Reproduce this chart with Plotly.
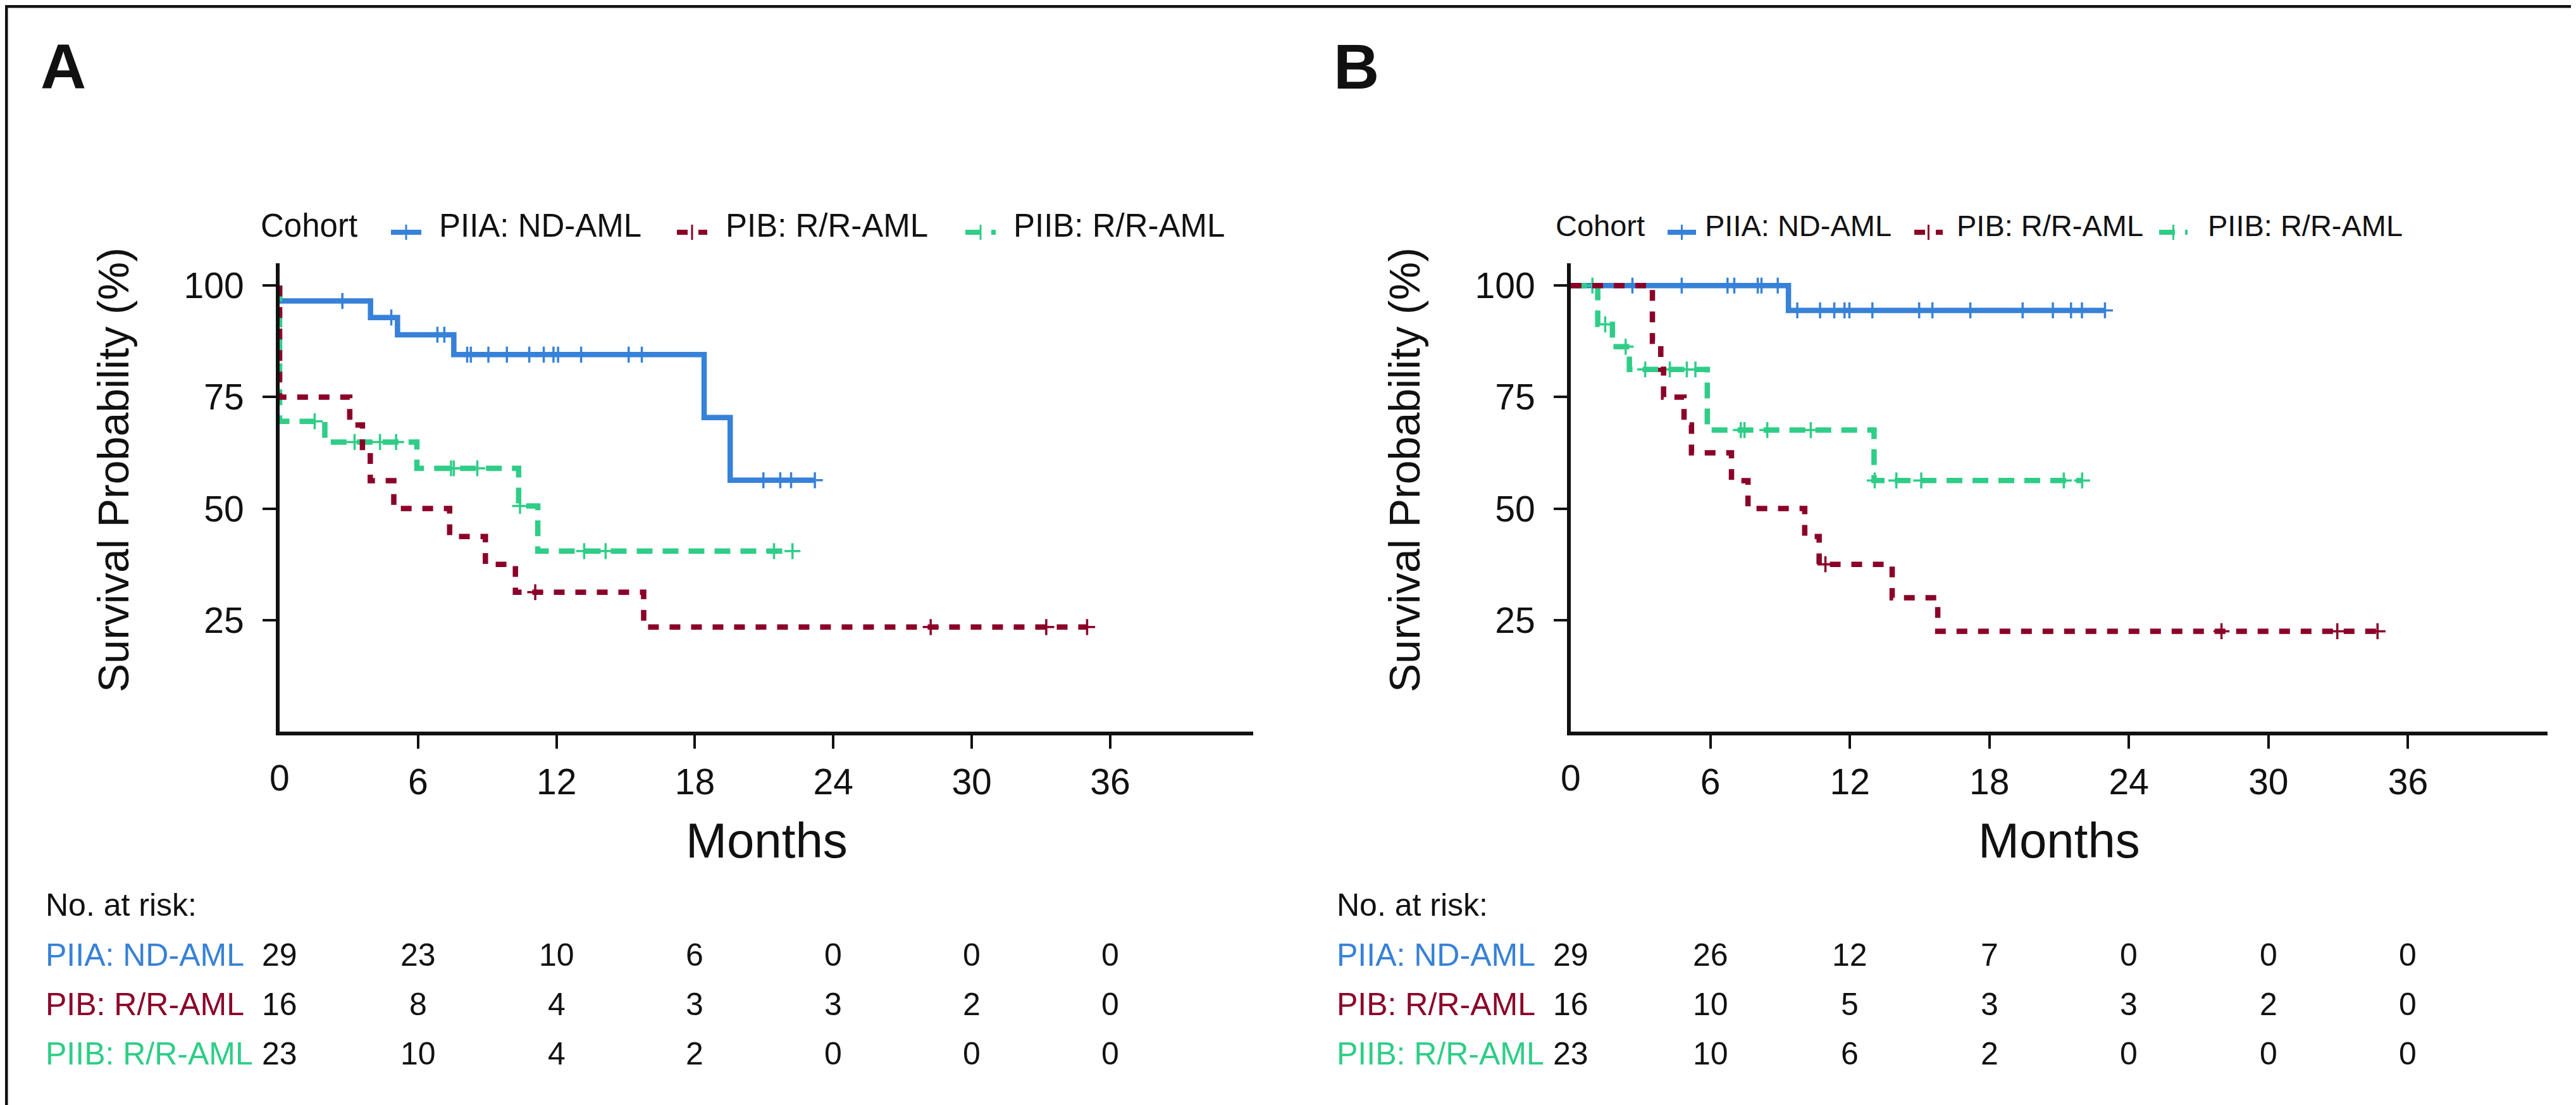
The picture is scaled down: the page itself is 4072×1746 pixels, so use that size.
import plotly.graph_objects as go

W, H = 4072, 1746
FONT = "Liberation Sans, Arial, Helvetica, sans-serif"
INK = "#111111"

BLUE = "#3781D8"
RED = "#8B0028"
GREEN = "#2FCD87"

COHORTS = ["PIIA: ND-AML", "PIB: R/R-AML", "PIIB: R/R-AML"]
COLORS = [BLUE, RED, GREEN]
DASHES = ["solid", "17px,17px", "25px,16px"]

MONTH_TICKS = [0, 6, 12, 18, 24, 30, 36]
SURV_TICKS = [25, 50, 75, 100]

# Panel A: step times (months), survival (%) after each step, censor times
A_PIIA_T = [0, 0, 3.94, 5.11, 7.55, 18.40, 19.53]
A_PIIA_S = [100, 96.55, 92.84, 88.97, 84.52, 70.43, 56.35]
A_PIIA_C = [2.72, 4.84, 6.84, 7.14, 8.13, 8.29, 9.05, 9.85, 10.82, 11.45,
            11.87, 12.07, 13.07, 15.13, 15.70, 20.97, 21.70, 22.17, 23.20]

A_PIB_T = [0, 0, 3.04, 3.59, 3.93, 4.95, 7.37, 8.92, 10.22, 15.78]
A_PIB_S = [100, 75, 68.75, 62.5, 56.25, 50, 43.75, 37.5, 31.25, 23.44]
A_PIB_C = [11.08, 28.22, 33.23, 35.00]

A_PIIB_T = [0, 0, 1.96, 5.95, 10.36, 11.19]
A_PIIB_S = [100, 69.57, 64.93, 59.03, 50.59, 40.47]
A_PIIB_C = [1.52, 3.25, 4.35, 5.05, 7.43, 7.55, 8.57, 10.42, 13.20, 14.13,
            21.43, 22.23]

A_RISK = [[29, 23, 10, 6, 0, 0, 0],
          [16, 8, 4, 3, 3, 2, 0],
          [23, 10, 4, 2, 0, 0, 0]]

# Panel B
B_PIIA_T = [0, 9.36]
B_PIIA_S = [100, 94.44]
B_PIIA_C = [2.65, 4.77, 6.74, 7.03, 8.04, 8.20, 8.90, 9.74, 10.72, 11.33,
            11.77, 11.98, 12.97, 14.98, 15.55, 17.18, 19.43, 20.73, 21.51,
            21.98, 22.97]

B_PIB_T = [0, 3.51, 3.87, 3.99, 4.87, 5.19, 6.91, 7.62, 10.06, 10.68, 13.82, 15.78]
B_PIB_S = [100, 87.5, 81.25, 75, 68.75, 62.5, 56.25, 50, 43.75, 37.5, 30, 22.5]
B_PIB_C = [10.95, 27.98, 32.96, 34.69]

B_PIIB_T = [0, 1.16, 1.79, 2.52, 5.87, 13.04]
B_PIIB_S = [100, 91.3, 86.3, 81.2, 67.6, 56.3]
B_PIIB_C = [0.93, 1.48, 2.36, 3.20, 4.26, 4.99, 5.36, 7.31, 7.47, 8.45,
            10.32, 13.07, 14.00, 15.07, 21.20, 21.99]

B_RISK = [[29, 26, 12, 7, 0, 0, 0],
          [16, 10, 5, 3, 3, 2, 0],
          [23, 10, 6, 2, 0, 0, 0]]

TEXT_DY = -5  # annotation boxes sit a little low, nudge up


def px_x(x):
    return x / W


def px_y(y):
    return 1 - y / H


def ty(y):
    return px_y(y + TEXT_DY)


def level_at(t, times, surv):
    s = surv[0]
    for ti, si in zip(times, surv):
        if ti <= t:
            s = si
    return s


PANELS = [
    dict(letter="A", letter_x=54, ax="x", ay="y", dom=(434, 1973), xmax=42.2,
         curves=[(A_PIIA_T, A_PIIA_S, A_PIIA_C), (A_PIB_T, A_PIB_S, A_PIB_C),
                 (A_PIIB_T, A_PIIB_S, A_PIIB_C)],
         risk=A_RISK, risk_x=62, ytitle_x=171,
         leg_font=51, leg_title_x=402, leg_sym=[610, 1062, 1518],
         leg_text=[684, 1137, 1592], leg_w=48),
    dict(letter="B", letter_x=2098, ax="x2", ay="y2", dom=(2475, 4019), xmax=42.0,
         curves=[(B_PIIA_T, B_PIIA_S, B_PIIA_C), (B_PIB_T, B_PIB_S, B_PIB_C),
                 (B_PIIB_T, B_PIIB_S, B_PIIB_C)],
         risk=B_RISK, risk_x=2103, ytitle_x=2212,
         leg_font=47, leg_title_x=2449, leg_sym=[2628, 3018, 3405],
         leg_text=[2685, 3083, 3480], leg_w=45),
]

Y_DOM = (px_y(1148), px_y(408))

fig = go.Figure()
annotations = []
shapes = []

for p in PANELS:
    # blue first, then green, red on top
    for i in [0, 2, 1]:
        times, surv, cens = p["curves"][i]
        t_end = max(max(cens), times[-1])
        fig.add_trace(go.Scatter(
            x=times + [t_end], y=surv + [surv[-1]],
            xaxis=p["ax"], yaxis=p["ay"], mode="lines",
            line=dict(color=COLORS[i], width=8.5, dash=DASHES[i], shape="hv"),
            showlegend=False, hoverinfo="skip",
        ))
        fig.add_trace(go.Scatter(
            x=cens, y=[level_at(c, times, surv) for c in cens],
            xaxis=p["ax"], yaxis=p["ay"], mode="markers",
            marker=dict(symbol="cross-thin-open", size=18, color=COLORS[i],
                        line=dict(width=3.5, color=COLORS[i])),
            showlegend=False, hoverinfo="skip",
        ))

    # panel letter
    annotations.append(dict(text="<b>%s</b>" % p["letter"], xref="paper", yref="paper",
                            x=px_x(p["letter_x"]), y=ty(102), xanchor="left",
                            yanchor="middle", showarrow=False,
                            font=dict(family=FONT, size=100, color=INK)))

    # legend
    annotations.append(dict(text="Cohort", xref="paper", yref="paper",
                            x=px_x(p["leg_title_x"]), y=ty(354), xanchor="left",
                            yanchor="middle", showarrow=False,
                            font=dict(family=FONT, size=p["leg_font"], color=INK)))
    for i in range(3):
        sx = p["leg_sym"][i]
        w = p["leg_w"]
        shapes.append(dict(type="line", xref="paper", yref="paper",
                           x0=px_x(sx), x1=px_x(sx + w), y0=px_y(359), y1=px_y(359),
                           line=dict(color=COLORS[i], width=8, dash=DASHES[i])))
        shapes.append(dict(type="line", xref="paper", yref="paper",
                           x0=px_x(sx + w / 2), x1=px_x(sx + w / 2),
                           y0=px_y(347), y1=px_y(371),
                           line=dict(color=COLORS[i], width=3)))
        annotations.append(dict(text=COHORTS[i], xref="paper", yref="paper",
                                x=px_x(p["leg_text"][i]), y=ty(354), xanchor="left",
                                yanchor="middle", showarrow=False,
                                font=dict(family=FONT, size=p["leg_font"], color=INK)))

    # axis titles
    annotations.append(dict(text="Survival Probability (%)", xref="paper", yref="paper",
                            x=px_x(p["ytitle_x"]), y=px_y(735), textangle=-90,
                            xanchor="center", yanchor="middle", showarrow=False,
                            font=dict(family=FONT, size=68, color=INK)))
    annotations.append(dict(text="Months", xref="paper", yref="paper",
                            x=px_x((p["dom"][0] + p["dom"][1]) / 2), y=ty(1325),
                            xanchor="center", yanchor="middle", showarrow=False,
                            font=dict(family=FONT, size=78, color=INK)))

    # "0" tick label (no tick mark drawn at the origin)
    annotations.append(dict(text="0", xref=p["ax"], yref="paper", x=0, y=ty(1226),
                            xanchor="center", yanchor="middle", showarrow=False,
                            font=dict(family=FONT, size=57, color=INK)))

    # number at risk table
    annotations.append(dict(text="No. at risk:", xref="paper", yref="paper",
                            x=px_x(p["risk_x"]), y=ty(1427), xanchor="left",
                            yanchor="middle", showarrow=False,
                            font=dict(family=FONT, size=50, color=INK)))
    for i, row_y in enumerate([1506, 1584, 1662]):
        annotations.append(dict(text=COHORTS[i], xref="paper", yref="paper",
                                x=px_x(p["risk_x"]), y=ty(row_y), xanchor="left",
                                yanchor="middle", showarrow=False,
                                font=dict(family=FONT, size=50, color=COLORS[i])))
        for t, n in zip(MONTH_TICKS, p["risk"][i]):
            annotations.append(dict(text=str(n), xref=p["ax"], yref="paper",
                                    x=t, y=ty(row_y), xanchor="center",
                                    yanchor="middle", showarrow=False,
                                    font=dict(family=FONT, size=50, color=INK)))

# outer frame
shapes.append(dict(type="rect", xref="paper", yref="paper", x0=0, x1=1, y0=0, y1=1,
                   line=dict(color=INK, width=9)))

axis_common = dict(showgrid=False, zeroline=False, showline=True, linewidth=6,
                   linecolor=INK, ticks="outside", ticklen=21, tickwidth=4,
                   tickcolor=INK, tickfont=dict(family=FONT, size=57, color=INK),
                   fixedrange=True)

layout_axes = {}
for k, p in enumerate(PANELS):
    sfx = "" if k == 0 else "2"
    layout_axes["xaxis" + sfx] = dict(
        domain=[px_x(p["dom"][0]), px_x(p["dom"][1])], range=[0, p["xmax"]],
        tickmode="array", tickvals=MONTH_TICKS[1:], anchor="y" + sfx,
        ticklabelstandoff=4, **axis_common)
    layout_axes["yaxis" + sfx] = dict(
        domain=list(Y_DOM), range=[0, 105], tickmode="array", tickvals=SURV_TICKS,
        anchor="x" + sfx, ticklabelstandoff=18, **axis_common)

fig.update_layout(
    width=W, height=H, margin=dict(l=0, r=0, t=0, b=0),
    paper_bgcolor="white", plot_bgcolor="white",
    font=dict(family=FONT, color=INK),
    showlegend=False, annotations=annotations, shapes=shapes,
    **layout_axes,
)

fig.write_html("out.html")
